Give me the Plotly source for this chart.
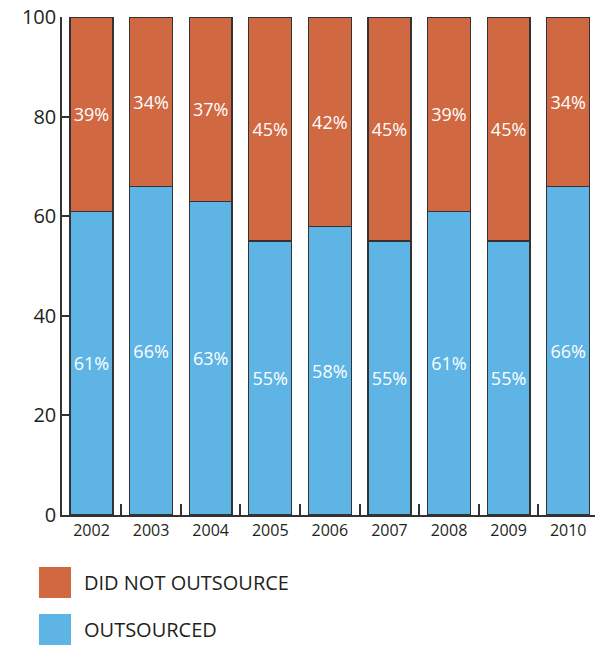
import plotly.graph_objects as go

years = ["2002", "2003", "2004", "2005", "2006", "2007", "2008", "2009", "2010"]
outsourced = [61, 66, 63, 55, 58, 55, 61, 55, 66]
did_not = [39, 34, 37, 45, 42, 45, 39, 45, 34]
series_names = ["DID NOT OUTSOURCE", "OUTSOURCED"]
y_ticks = [0, 20, 40, 60, 80, 100]

ORANGE = "#D06841"
BLUE = "#5DB4E5"
TEXT = "#231F20"
FONT = "Open Sans"

fig = go.Figure()
fig.add_trace(go.Bar(
    x=years, y=outsourced, name=series_names[1],
    marker=dict(color=BLUE, line=dict(color="#333333", width=1.3)),
    text=[f"{v}%" for v in outsourced], textposition="inside",
    insidetextanchor="middle", textangle=0,
    textfont=dict(color="white", size=18, family=FONT), width=0.72,
))
fig.add_trace(go.Bar(
    x=years, y=did_not, name=series_names[0],
    marker=dict(color=ORANGE, line=dict(color="#333333", width=1.3)),
    text=[f"{v}%" for v in did_not], textposition="inside",
    insidetextanchor="middle", textangle=0,
    textfont=dict(color="white", size=18, family=FONT), width=0.72,
))

# legend drawn as shapes + annotations
legend_items = [(series_names[0], ORANGE, -0.1044, -0.1667),
                (series_names[1], BLUE, -0.1988, -0.2610)]
shapes = []
annotations = []
for name, col, y0, y1 in legend_items:
    shapes.append(dict(type="rect", xref="paper", yref="paper",
                       x0=-0.0432, x1=0.0169, y0=y1, y1=y0,
                       fillcolor=col, line=dict(width=0)))
    annotations.append(dict(xref="paper", yref="paper", x=0.0375, y=(y0 + y1) / 2,
                            text=name, showarrow=False, xanchor="left", yanchor="middle",
                            font=dict(family=FONT, size=20, color=TEXT)))

fig.update_layout(
    barmode="stack",
    width=595, height=645,
    margin=dict(l=62, r=0, t=17, b=130),
    paper_bgcolor="white", plot_bgcolor="white",
    showlegend=False,
    shapes=shapes, annotations=annotations,
    uniformtext=dict(mode=False),
)
fig.update_xaxes(
    type="category", range=[-0.495, 8.45],
    showline=True, linecolor="#333333", linewidth=1.5,
    ticks="inside", tickson="boundaries", ticklen=11, tickcolor="#333333", tickwidth=1.5,
    tickfont=dict(family=FONT, size=16, color=TEXT),
    showgrid=False, zeroline=False,
)
fig.update_yaxes(
    range=[0, 100], tickvals=y_ticks,
    showline=True, linecolor="#333333", linewidth=1.5,
    ticks="inside", ticklen=8, tickcolor="#333333", tickwidth=1.5,
    tickfont=dict(family=FONT, size=20, color=TEXT),
    showgrid=False, zeroline=False,
)

fig.write_html("out.html")
